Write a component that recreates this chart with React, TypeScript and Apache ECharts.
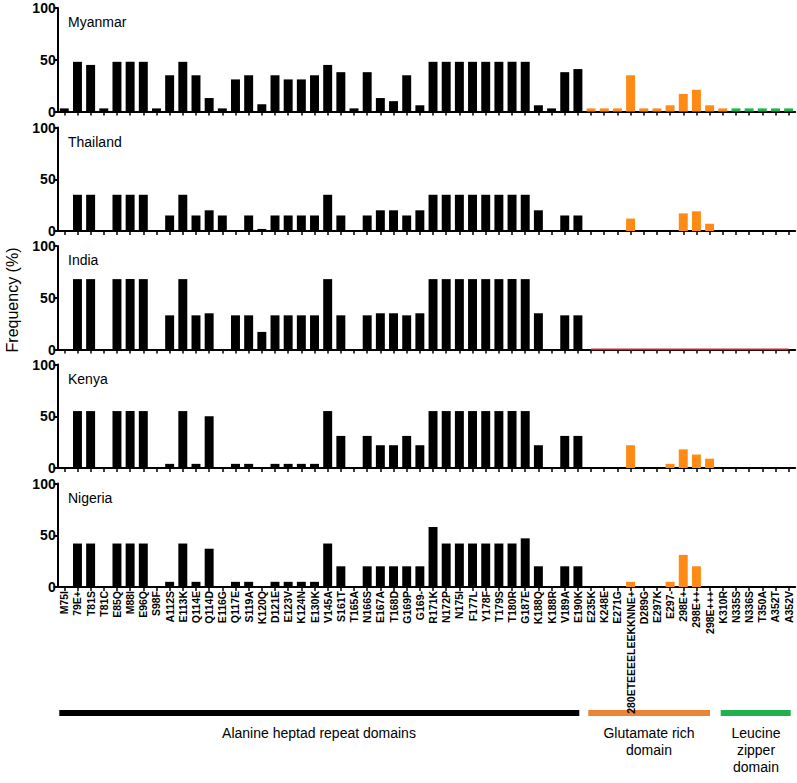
import React, { useEffect, useRef } from "react";
import * as echarts from "echarts";

const categories = [
  "M75I", "79E+", "T81S", "T81C", "E85Q", "M88I", "E96Q", "S98F", "A112S", "E113K",
  "Q114E", "Q114D", "E116G", "Q117E", "S119A", "K120Q", "D121E", "E123V", "K124N", "E130K",
  "V145A", "S161T", "T165A", "N166S", "E167A", "T168D", "G169P", "G169-", "R171K", "N172P",
  "N175I", "F177L", "Y178F", "T179S", "T180R", "G187E", "K188Q", "K188R", "V189A", "E190K",
  "E235K", "K248E", "E271G", "280ETEEEELEEKKNNE+", "D289G", "E297K", "E297-", "298E+", "298E++", "298E+++",
  "K310R", "N335S", "N336S", "T350A", "A352T", "A352V",
];

const countries = ["Myanmar", "Thailand", "India", "Kenya", "Nigeria"];

const myanmar = [
  3, 48, 45, 3, 48, 48, 48, 3, 35, 48,
  35, 13, 3, 31, 35, 7, 35, 31, 31, 35,
  45, 38, 3, 38, 13, 10, 35, 6, 48, 48,
  48, 48, 48, 48, 48, 48, 6, 3, 38, 41,
  3, 3, 3, 35, 3, 3, 6, 17, 21, 6,
  3, 3, 3, 3, 3, 3,
];
const thailand = [
  0, 35, 35, 0, 35, 35, 35, 0, 15, 35,
  15, 20, 15, 0, 15, 2, 15, 15, 15, 15,
  35, 15, 0, 15, 20, 20, 15, 20, 35, 35,
  35, 35, 35, 35, 35, 35, 20, 0, 15, 15,
  0, 0, 0, 12, 0, 0, 0, 17, 19, 7,
  0, 0, 0, 0, 0, 0,
];
const india = [
  0, 68, 68, 0, 68, 68, 68, 0, 33, 68,
  33, 35, 0, 33, 33, 17, 33, 33, 33, 33,
  68, 33, 0, 33, 35, 35, 33, 35, 68, 68,
  68, 68, 68, 68, 68, 68, 35, 0, 33, 33,
  0, 0, 0, 0, 0, 0, 0, 0, 0, 0,
  0, 0, 0, 0, 0, 0,
];
const kenya = [
  0, 55, 55, 0, 55, 55, 55, 0, 4, 55,
  4, 50, 0, 4, 4, 0, 4, 4, 4, 4,
  55, 31, 0, 31, 22, 22, 31, 22, 55, 55,
  55, 55, 55, 55, 55, 55, 22, 0, 31, 31,
  0, 0, 0, 22, 0, 0, 4, 18, 13, 9,
  0, 0, 0, 0, 0, 0,
];
const nigeria = [
  0, 42, 42, 0, 42, 42, 42, 0, 5, 42,
  5, 37, 0, 5, 5, 0, 5, 5, 5, 5,
  42, 20, 0, 20, 20, 20, 20, 20, 58, 42,
  42, 42, 42, 42, 42, 47, 20, 0, 20, 20,
  0, 0, 0, 5, 0, 0, 5, 31, 20, 0,
  0, 0, 0, 0, 0, 0,
];

const panelValues = [myanmar, thailand, india, kenya, nigeria];
const yTicks = [0, 50, 100];

// domain boundaries (category index where each domain's bar colour starts)
const ORANGE_START = 40;
const GREEN_START = 51;
// India: no data for the C-terminal region (red baseline)
const INDIA_MISSING_START = 40;

const FONT = 'Arial, "Liberation Sans", Helvetica, sans-serif';
const BLACK = "#000000";
const ORANGE = "#FF8A14";
const GREEN = "#22B34A";
const DOMAIN_ORANGE = "#EC8436";
const DOMAIN_GREEN = "#1FB14D";

const GRID_LEFT = 57.7;
const GRID_RIGHT = 1.8;
const PANEL_TOPS = [8, 127.5, 246, 364.5, 483.5];
const PANEL_H = 103.5;

function barColor(i: number) {
  if (i >= GREEN_START) return GREEN;
  if (i >= ORANGE_START) return ORANGE;
  return BLACK;
}

export default function App() {
  const ref = useRef<HTMLDivElement>(null);

  useEffect(() => {
    if (!ref.current) return;
    const chart = echarts.init(ref.current, null, { renderer: "svg" });
    const n = countries.length;

    const grid = PANEL_TOPS.map((t) => ({
      left: GRID_LEFT,
      right: GRID_RIGHT,
      top: t,
      height: PANEL_H,
      containLabel: false,
    }));

    const xAxis = countries.map((_, k) => ({
      type: "category",
      gridIndex: k,
      data: categories,
      boundaryGap: true,
      axisLine: { show: true, lineStyle: { color: BLACK, width: 2 } },
      axisTick: {
        show: true,
        alignWithLabel: true,
        interval: 0,
        length: 4,
        lineStyle: { color: BLACK, width: 1.5 },
      },
      axisLabel: {
        show: k === n - 1,
        interval: 0,
        rotate: 90,
        fontSize: 10.5,
        fontWeight: "bold",
        fontFamily: FONT,
        color: BLACK,
        margin: 4,
      },
      splitLine: { show: false },
    }));

    const yAxis = countries.map((_, k) => ({
      type: "value",
      gridIndex: k,
      min: yTicks[0],
      max: yTicks[yTicks.length - 1],
      interval: yTicks[1] - yTicks[0],
      axisLine: { show: true, lineStyle: { color: BLACK, width: 2 } },
      axisTick: { show: true, length: 4, lineStyle: { color: BLACK, width: 2 } },
      axisLabel: {
        fontSize: 14,
        fontWeight: "bold",
        fontFamily: FONT,
        color: BLACK,
        margin: 2,
      },
      splitLine: { show: false },
    }));

    const series: any[] = panelValues.map((vals, k) => ({
      type: "bar",
      name: countries[k],
      xAxisIndex: k,
      yAxisIndex: k,
      barWidth: "68%",
      data: vals.map((v, i) => ({ value: v, itemStyle: { color: barColor(i) } })),
    }));

    series.push({
      type: "line",
      name: "India missing",
      xAxisIndex: 2,
      yAxisIndex: 2,
      symbol: "none",
      z: 5,
      lineStyle: { color: "#C62828", width: 2 },
      data: categories.map((_, i) => (i >= INDIA_MISSING_START ? 0 : "-")),
    });

    const countryLabels = countries.map((c, k) => ({
      type: "text",
      left: 68,
      top: PANEL_TOPS[k] + 7,
      style: { text: c, fontSize: 14, fontFamily: FONT, fill: BLACK },
    }));

    const domainY = 710;
    const domainText = (text: string, cx: number) => ({
      type: "text",
      x: cx,
      y: 724,
      style: {
        text,
        fontSize: 14,
        fontFamily: FONT,
        fill: BLACK,
        align: "center",
        verticalAlign: "top",
        lineHeight: 17,
      },
    });

    const graphic: any[] = [
      ...countryLabels,
      {
        type: "text",
        x: 4,
        y: 300,
        rotation: Math.PI / 2,
        style: {
          text: "Frequency (%)",
          fontSize: 16,
          fontFamily: FONT,
          fill: BLACK,
          align: "center",
          verticalAlign: "top",
        },
      },
      { type: "rect", shape: { x: 59.3, y: domainY, width: 520, height: 6 }, style: { fill: BLACK } },
      { type: "rect", shape: { x: 588.3, y: domainY, width: 121.7, height: 6 }, style: { fill: DOMAIN_ORANGE } },
      { type: "rect", shape: { x: 720.7, y: domainY, width: 70, height: 6 }, style: { fill: DOMAIN_GREEN } },
      domainText("Alanine heptad repeat domains", 319),
      domainText("Glutamate rich\ndomain", 649),
      domainText("Leucine\nzipper\ndomain", 756),
    ];

    chart.setOption({
      animation: false,
      backgroundColor: "#ffffff",
      textStyle: { fontFamily: FONT },
      grid,
      xAxis,
      yAxis,
      series,
      graphic,
    });

    return () => chart.dispose();
  }, []);

  return (
    <div
      ref={ref}
      style={{ position: "fixed", left: 0, top: 0, width: 797, height: 783, background: "#fff" }}
    />
  );
}
